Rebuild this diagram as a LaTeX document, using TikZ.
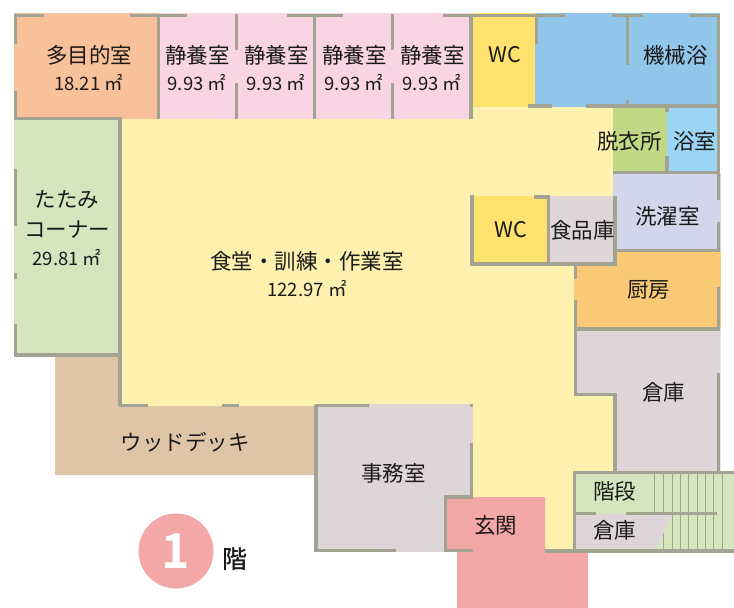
\documentclass[tikz,border=0pt]{standalone}
\usepackage{fontspec}
\setmainfont{Noto Sans CJK JP}
\newfontfamily\boldfont{Noto Sans CJK JP Bold}
\newfontfamily\mediumfont{Noto Sans CJK JP Medium}
\definecolor{wallgray}{HTML}{A3A393}
\definecolor{inkblack}{HTML}{1A1A1A}
\definecolor{roomorange}{HTML}{F9C199}
\definecolor{roompink}{HTML}{F9D5E3}
\definecolor{roomyellow}{HTML}{FEF0AE}
\definecolor{roomwc}{HTML}{FFE16E}
\definecolor{roomblue}{HTML}{91C5EA}
\definecolor{roomsky}{HTML}{9CD5F5}
\definecolor{roomleaf}{HTML}{C1D984}
\definecolor{roomgreen}{HTML}{D5E6BF}
\definecolor{roomlilac}{HTML}{D3D5EB}
\definecolor{roomkitchen}{HTML}{F9C975}
\definecolor{roomstore}{HTML}{DED5D9}
\definecolor{roomwood}{HTML}{E0C4A8}
\definecolor{roomentry}{HTML}{F4A7A7}
\begin{document}
\begin{tikzpicture}[x=1pt,y=-1pt]
    \tikzset{wall/.style = {draw=wallgray,line width=3.2pt}}
    \tikzset{tread/.style = {draw=wallgray,line width=1pt}}
    \tikzset{room/.style = {text=inkblack,font=\fontsize{21.5}{21.5}\selectfont,inner sep=0pt,xshift=0.6pt}}
    \tikzset{area/.style = {text=inkblack,font=\fontsize{18.5}{18.5}\selectfont,inner sep=0pt}}
    \useasboundingbox (0,0) rectangle (734,608);

    % floors
    \fill[roomwood] (55,355) -- (120,355) -- (120,406) -- (316,406) -- (316,475) -- (55,475) -- cycle;
    \fill[roomyellow] (120,119) -- (472,119) -- (472,107) -- (613,107) -- (613,252) -- (574,252) -- (574,394) -- (615,394) -- (615,472) -- (575,472) -- (575,551) -- (472,551) -- (472,406) -- (120,406) -- cycle;
    \fill[roomorange] (14,13) rectangle (158,119);
    \fill[roompink] (158,13) rectangle (472,119);
    \fill[roomwc] (472,13) rectangle (536,107);
    \fill[roomblue] (535,13) rectangle (720,107);
    \fill[roomleaf] (613,107) rectangle (667,173);
    \fill[roomsky] (667,107) rectangle (720,173);
    \fill[roomlilac] (613,173) rectangle (720.5,252);
    \fill[roomkitchen] (574,252) rectangle (720.5,329);
    \fill[roomstore] (574,329) -- (720.5,329) -- (720.5,472) -- (615,472) -- (615,394) -- (574,394) -- cycle;
    \fill[roomgreen] (14,119) rectangle (120,356);
    \fill[roomwc] (472,196) rectangle (549,264);
    \fill[roomstore] (549,196) rectangle (615,264);
    \fill[roomstore] (315,404) rectangle (473,552);
    \fill[roomgreen] (575,472) rectangle (734,551);
    \fill[roomentry] (446,497) -- (545,497) -- (545,551) -- (588,551) -- (588,608) -- (457,608) -- (457,551) -- (446,551) -- cycle;

    % stairs
    \foreach \tx in {654,663,672,680,688,697,705,713,722}
        \draw[tread] (\tx,472) -- (\tx,551);
    \fill[roomstore] (575,514) -- (672,514) -- (656,550) -- (575,550) -- cycle;

    % walls
    \draw[wall] (14,15.2) -- (44,15.2);
    \draw[wall] (130,15.2) -- (187,15.2);
    \draw[wall] (287,15.2) -- (343,15.2);
    \draw[wall] (443,15.2) -- (565,15.2);
    \draw[wall] (612,15.2) -- (643,15.2);
    \draw[wall] (690,15.2) -- (720,15.2);
    \draw[wall] (15.5,14) -- (15.5,44);
    \draw[wall] (15.5,91) -- (15.5,119);
    \draw[wall] (15.5,169) -- (15.5,226);
    \draw[wall] (15.5,273) -- (15.5,279);
    \draw[wall] (15.5,324) -- (15.5,356);
    \draw[wall] (14,118.5) -- (121.5,118.5);
    \draw[wall] (14,355) -- (120,355);
    \draw[wall] (120,117) -- (120,406);
    \draw[wall] (118.5,405.5) -- (148,405.5);
    \draw[wall] (222,405.5) -- (239,405.5);
    \draw[wall] (158.5,14) -- (158.5,119);
    \draw[wall] (236.5,14) -- (236.5,50);
    \draw[wall] (236.5,83) -- (236.5,119);
    \draw[wall] (314.5,14) -- (314.5,119);
    \draw[wall] (392.5,14) -- (392.5,50);
    \draw[wall] (392.5,83) -- (392.5,119);
    \draw[wall] (471,14) -- (471,119);
    \draw[wall] (536.5,14) -- (536.5,44);
    \draw[wall] (627.5,14) -- (627.5,65);
    \draw[wall] (627.5,100) -- (627.5,107);
    \draw[wall] (528,106) -- (552,106);
    \draw[wall] (586,106) -- (720,106);
    \draw[wall] (718.5,14) -- (718.5,200);
    \draw[wall] (718.5,222) -- (718.5,252);
    \draw[wall] (718.5,287) -- (718.5,331);
    \draw[wall] (718.5,373) -- (718.5,472);
    \draw[wall] (667,107) -- (667,112);
    \draw[wall] (667,156) -- (667,173);
    \draw[wall] (613,172.5) -- (720,172.5);
    \draw[wall] (613,250.5) -- (720,250.5);
    \draw[wall] (472,195.5) -- (472,265.5);
    \draw[wall] (470,197) -- (474,197);
    \draw[wall] (534,197) -- (550,197);
    \draw[wall] (548.5,196) -- (548.5,264);
    \draw[wall] (615,196) -- (615,265.5);
    \draw[wall] (470.5,264) -- (616.5,264);
    \draw[wall] (575.5,264) -- (575.5,279);
    \draw[wall] (575.5,300) -- (575.5,395);
    \draw[wall] (575,329) -- (720,329);
    \draw[wall] (574,394.5) -- (616.5,394.5);
    \draw[wall] (615,393) -- (615,472);
    \draw[wall] (573,472.5) -- (734,472.5);
    \draw[wall] (574.5,472) -- (574.5,551);
    \draw[wall] (576,513.5) -- (596,513.5);
    \draw[wall] (626,513.5) -- (717,513.5);
    \draw[wall] (545,551) -- (734,551);
    \draw[wall] (316,404.5) -- (316,552);
    \draw[wall] (315,405.5) -- (369,405.5);
    \draw[wall] (316,550.5) -- (396,550.5);
    \draw[wall] (471.5,404) -- (471.5,407);
    \draw[wall] (471.5,443) -- (471.5,498);
    \draw[wall] (444,497) -- (473,497);
    \draw[wall] (445.5,495.5) -- (445.5,552);
    \draw[wall] (444,550.5) -- (473,550.5);

    % labels
    \node[room] (tamokuteki) at (88.5,55) {多目的室};
    \node[area] (tamokutekiarea) at (88.5,83) {18.21 ㎡};
    \foreach \cx/\nm in {197/a,276/b,354/c,432/d} {
        \node[room] (seiyo\nm) at (\cx,55) {静養室};
        \node[area] (seiyoarea\nm) at (\cx,83) {9.93 ㎡};
    }
    \node[room] (wcupper) at (504,55) {WC};
    \node[room] (kikaiyoku) at (675,55) {機械浴};
    \node[room] (datsui) at (629,141) {脱衣所};
    \node[room] (yokushitsu) at (694,141) {浴室};
    \node[room] (sentaku) at (667,216.5) {洗濯室};
    \node[room] (wclower) at (510,230) {WC};
    \node[room] (shokuhin) at (582,230) {食品庫};
    \node[room] (chubo) at (648,290) {厨房};
    \node[room] (sokoupper) at (663,392) {倉庫};
    \node[room] (shokudo) at (306.4,261) {食堂・訓練・作業室};
    \node[area] (shokudoarea) at (307,289) {122.97 ㎡};
    \node[room] (tatami) at (66.4,200) {たたみ};
    \node[room] (corner) at (66.4,230) {コーナー};
    \node[area] (tatamiarea) at (67,258) {29.81 ㎡};
    \node[room] (deck) at (184.4,442.5) {ウッドデッキ};
    \node[room] (jimu) at (393,473) {事務室};
    \node[room] (genkan) at (495,525) {玄関};
    \node[room] (kaidan) at (614,491) {階段};
    \node[room] (sokolower) at (614,530) {倉庫};

    % floor mark
    \node[circle,fill=roomentry,minimum size=75pt,inner sep=0pt,text=white,font=\boldfont\fontsize{48}{48}\selectfont] (floormark) at (176,551) {1};
    \node[room,font=\mediumfont\fontsize{25}{25}\selectfont] (floorname) at (234,559.5) {階};
\end{tikzpicture}
\end{document}
